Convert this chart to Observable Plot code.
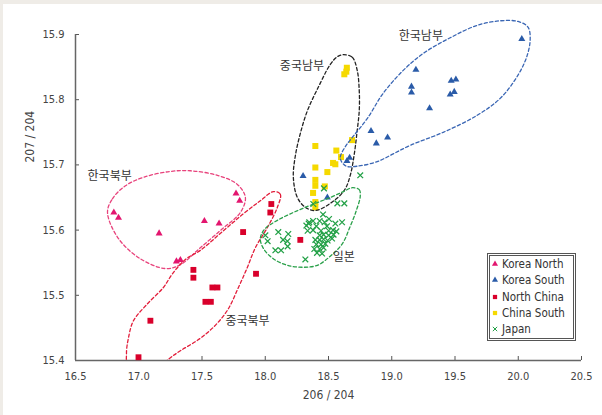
<!DOCTYPE html>
<html><head><meta charset="utf-8">
<script src="https://cdn.jsdelivr.net/npm/d3@7"></script>
<script src="https://cdn.jsdelivr.net/npm/@observablehq/plot@0.6"></script>
<style>
html,body{margin:0;padding:0;background:#efece7;}
#wrap{position:relative;width:602px;height:415px;overflow:hidden;}
#panel{position:absolute;left:3px;top:4px;right:0;bottom:0;background:#fff;}
#chart{position:absolute;left:0;top:0;}
#legend{position:absolute;left:487px;top:253px;width:83px;height:82px;border:3px double #555;background:#fff;
  font-family:'Liberation Sans Narrow','DejaVu Sans Condensed','Roboto',sans-serif;font-size:11.5px;color:#333;}
#legend .row{height:16.3px;line-height:16.3px;white-space:nowrap;display:flex;align-items:center;}
#legend svg{width:10px;height:10px;margin-right:2px;flex:none;}
</style>
</head><body>
<div id="wrap"><div id="panel"></div><div id="chart"></div><div id="legend"></div></div>
<script>
// ---- data (x = 206/204, y = 207/204) ----
const xTicks = [16.5, 17.0, 17.5, 18.0, 18.5, 19.0, 19.5, 20.0, 20.5];
const yTicks = [15.4, 15.5, 15.6, 15.7, 15.8, 15.9];
const seriesNames = ["Korea North", "Korea South", "North China", "China South", "Japan"];
const seriesColors = ["#e3166f", "#2a5ba8", "#d9002b", "#f5d900", "#22a046"];

const koreaNorth = [[16.803,15.627],[16.840,15.619],[17.161,15.595],[17.519,15.614],[17.635,15.610],
  [17.769,15.656],[17.798,15.645],[17.298,15.552],[17.329,15.554]];
const koreaSouth = [[20.028,15.893],[19.191,15.846],[19.156,15.820],[19.156,15.811],[19.470,15.829],
  [19.507,15.831],[19.462,15.808],[19.494,15.812],[19.299,15.787],[18.836,15.752],[18.967,15.742],
  [18.878,15.733],[18.667,15.711],[18.646,15.706],[18.299,15.683],[18.491,15.650]];
const northChina = [[18.048,15.640],[18.040,15.627],[17.825,15.597],[17.927,15.533],[17.432,15.539],
  [17.432,15.527],[17.582,15.512],[17.622,15.512],[17.527,15.490],[17.570,15.490],[17.092,15.461],
  [16.998,15.405],[18.277,15.585]];
const chinaSouth = [[18.645,15.849],[18.641,15.843],[18.625,15.839],[18.686,15.738],[18.396,15.729],
  [18.562,15.722],[18.599,15.712],[18.536,15.703],[18.554,15.701],[18.396,15.696],[18.491,15.689],
  [18.396,15.677],[18.396,15.668],[18.471,15.667],[18.378,15.657],[18.396,15.643],[18.396,15.635]];
const japan = [[18.751,15.684],[18.464,15.664],[18.380,15.640],[18.570,15.641],[18.625,15.641],
  [18.457,15.624],[18.504,15.617],[18.607,15.612],[18.348,15.612],[18.378,15.614],[18.325,15.607],
  [18.430,15.614],[18.469,15.612],[18.554,15.610],[18.404,15.606],[18.488,15.606],[18.335,15.599],
  [18.378,15.600],[18.441,15.599],[18.501,15.599],[18.536,15.600],[18.562,15.598],[18.430,15.592],
  [18.461,15.593],[18.501,15.592],[18.540,15.593],[18.396,15.585],[18.430,15.585],[18.461,15.586],
  [18.493,15.584],[18.528,15.587],[18.404,15.578],[18.441,15.578],[18.475,15.579],[18.388,15.571],
  [18.430,15.571],[18.461,15.573],[18.409,15.565],[18.449,15.564],[18.317,15.555],[18.103,15.597],
  [18.182,15.594],[18.001,15.592],[18.141,15.585],[18.175,15.583],[18.019,15.583],[18.177,15.575],
  [18.080,15.569],[18.125,15.569],[18.343,15.610]];

// region outlines (dashed) and their labels
const outlineKoreaNorth = [[16.753,15.627],[16.792,15.648],[16.895,15.668],[17.037,15.681],[17.250,15.690],
  [17.408,15.691],[17.622,15.684],[17.780,15.670],[17.843,15.650],[17.803,15.627],[17.661,15.602],
  [17.487,15.573],[17.329,15.547],[17.211,15.541],[17.013,15.556],[16.840,15.587]];
const outlineNorthChina = [[18.064,15.659],[18.119,15.655],[18.096,15.635],[18.017,15.604],[17.922,15.573],
  [17.859,15.543],[17.788,15.512],[17.701,15.477],[17.590,15.451],[17.464,15.431],[17.329,15.415],
  [17.235,15.402],[17.092,15.377],[16.919,15.388],[16.903,15.411],[16.919,15.435],[16.958,15.461],
  [17.069,15.487],[17.195,15.512],[17.266,15.533],[17.369,15.555],[17.487,15.569],[17.669,15.599],
  [17.827,15.625],[17.961,15.645]];
const outlineChinaSouth = [[18.617,15.869],[18.688,15.865],[18.727,15.845],[18.743,15.814],[18.743,15.783],
  [18.727,15.753],[18.704,15.717],[18.672,15.684],[18.625,15.661],[18.514,15.641],[18.396,15.630],
  [18.317,15.635],[18.254,15.650],[18.222,15.681],[18.238,15.714],[18.277,15.748],[18.333,15.783],
  [18.419,15.819],[18.514,15.854],[18.570,15.866]];
const outlineKoreaSouth = [[18.593,15.710],[18.633,15.728],[18.696,15.744],[18.806,15.771],[18.933,15.810],
  [19.091,15.845],[19.249,15.871],[19.462,15.895],[19.675,15.914],[19.857,15.921],[19.999,15.920],
  [20.078,15.911],[20.094,15.891],[20.062,15.863],[19.983,15.833],[19.857,15.802],[19.675,15.776],
  [19.407,15.750],[19.146,15.730],[19.012,15.717],[18.885,15.705],[18.727,15.698],[18.641,15.698]];
const outlineJapan = [[18.688,15.665],[18.743,15.662],[18.751,15.652],[18.720,15.630],[18.672,15.606],
  [18.609,15.579],[18.514,15.560],[18.412,15.546],[18.301,15.543],[18.175,15.546],[18.064,15.556],
  [17.985,15.572],[17.961,15.587],[17.993,15.601],[18.096,15.615],[18.222,15.627],[18.356,15.638],
  [18.514,15.650],[18.617,15.659]];
const outlineColors = ["#e8437c", "#e21d3a", "#222222", "#3a66b4", "#2aa04a"];

const regionLabels = ["한국북부", "중국북부", "중국남부", "한국남부", "일본"];
const regionLabelX = [16.77, 17.86, 18.29, 19.23, 18.62];
const regionLabelY = [15.682, 15.461, 15.852, 15.898, 15.558];

const xTitle = "206 / 204";
const yTitle = "207 / 204";

// ---- chart ----
const fontFam = "'Liberation Sans Narrow','DejaVu Sans Condensed','Roboto',sans-serif";
const px = d => d[0], py = d => d[1];
const fmt = d3.format(".1f");
const dash = {strokeDasharray: "3.2,2.4", strokeWidth: 1.3, curve: "catmull-rom-closed", fill: "none"};
const labelData = regionLabels.map((t, i) => ({t, x: regionLabelX[i], y: regionLabelY[i]}));

const chart = Plot.plot({
  width: 602, height: 415,
  marginLeft: 75, marginRight: 21, marginTop: 34, marginBottom: 55,
  x: {domain: [16.5, 20.5]},
  y: {domain: [15.4, 15.9]},
  style: {background: "transparent", fontFamily: fontFam, fontSize: "11px", color: "#444", overflow: "visible"},
  marks: [
    Plot.axisX(xTicks, {tickSize: -4, tickPadding: 16, tickFormat: fmt, label: null, stroke: "#555", fill: "#444"}),
    Plot.axisY(yTicks, {tickSize: -4, tickPadding: 15, tickFormat: fmt, label: null, stroke: "#555", fill: "#444"}),
    Plot.ruleY([15.4], {stroke: "#666", strokeWidth: 1.5}),
    Plot.ruleX([16.5], {stroke: "#666", strokeWidth: 1.5}),
    Plot.dot(koreaNorth, {x: px, y: py, symbol: "triangle", r: 2.6, fill: seriesColors[0]}),
    Plot.dot(koreaSouth, {x: px, y: py, symbol: "triangle", r: 2.6, fill: seriesColors[1]}),
    Plot.dot(northChina, {x: px, y: py, symbol: "square", r: 3.3, fill: seriesColors[2]}),
    Plot.dot(chinaSouth, {x: px, y: py, symbol: "square", r: 3.4, fill: seriesColors[3]}),
    Plot.dot(japan, {x: px, y: py, symbol: "times", r: 2.7, stroke: seriesColors[4], strokeWidth: 1.25}),
    Plot.line(outlineKoreaNorth, {x: px, y: py, stroke: outlineColors[0], ...dash}),
    Plot.line(outlineNorthChina, {x: px, y: py, stroke: outlineColors[1], ...dash, clip: true}),
    Plot.line(outlineChinaSouth, {x: px, y: py, stroke: outlineColors[2], ...dash}),
    Plot.line(outlineKoreaSouth, {x: px, y: py, stroke: outlineColors[3], ...dash}),
    Plot.line(outlineJapan, {x: px, y: py, stroke: outlineColors[4], ...dash}),
    Plot.text(labelData, {x: "x", y: "y", text: "t", fontFamily: "'Noto Sans CJK KR',sans-serif", fontSize: 12, fill: "#333"}),
    Plot.text([xTitle], {frameAnchor: "bottom", dy: 38, fontSize: 12, fill: "#444"}),
    Plot.text([yTitle], {frameAnchor: "left", rotate: -90, dx: -45, dy: -35, fontSize: 12, fill: "#444"})
  ]
});
document.getElementById("chart").appendChild(chart);

// ---- legend ----
const legendSymbols = [d3.symbolTriangle, d3.symbolTriangle, d3.symbolSquare, d3.symbolSquare, d3.symbolTimes];
const legend = d3.select("#legend");
seriesNames.forEach((name, i) => {
  const row = legend.append("div").attr("class", "row");
  const svg = row.append("svg").attr("viewBox", "-5 -5 10 10");
  const isX = i === 4;
  svg.append("path")
    .attr("d", d3.symbol(legendSymbols[i], isX ? 14 : (i < 2 ? 16 : 18))())
    .attr("fill", isX ? "none" : seriesColors[i])
    .attr("stroke", isX ? seriesColors[i] : "none");
  row.append("span").text(name);
});
</script>
</body></html>
